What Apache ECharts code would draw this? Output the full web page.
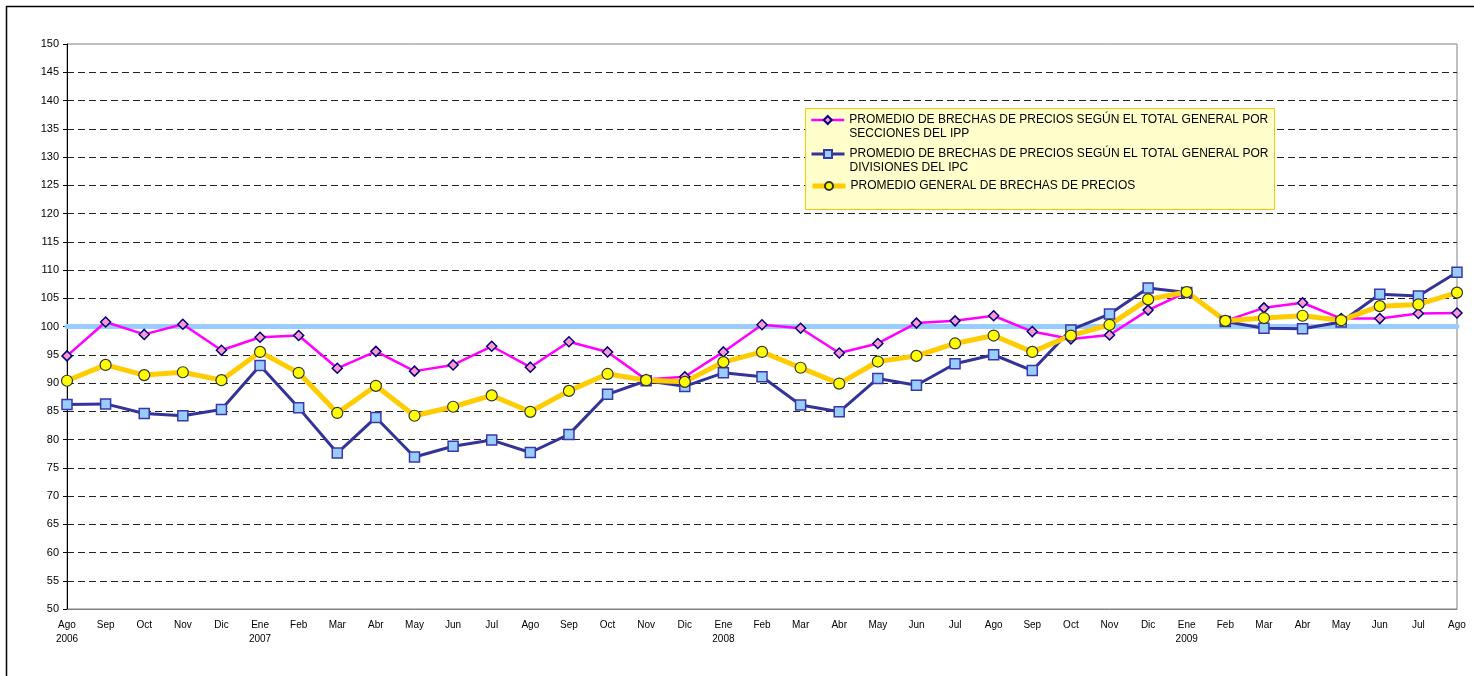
<!DOCTYPE html>
<html>
<head>
<meta charset="utf-8">
<script src="https://cdn.jsdelivr.net/npm/echarts@6/dist/echarts.min.js"></script>
<style>
    html, body { margin: 0; padding: 0; background: #fff; }
    #chart { width: 1474px; height: 676px; }
</style>
</head>
<body>
<div id="chart"></div>
<script>
// meses (Ago 2006 - Ago 2009)
var meses = ['Ago\n2006', 'Sep', 'Oct', 'Nov', 'Dic', 'Ene\n2007', 'Feb', 'Mar', 'Abr', 'May', 'Jun', 'Jul',
    'Ago', 'Sep', 'Oct', 'Nov', 'Dic', 'Ene\n2008', 'Feb', 'Mar', 'Abr', 'May', 'Jun', 'Jul',
    'Ago', 'Sep', 'Oct', 'Nov', 'Dic', 'Ene\n2009', 'Feb', 'Mar', 'Abr', 'May', 'Jun', 'Jul', 'Ago'];

// promedio segun secciones del IPP
var ipp = [94.8, 100.8, 98.6, 100.4, 95.8, 98.1, 98.4, 92.6, 95.6, 92.1, 93.2, 96.5,
    92.8, 97.3, 95.5, 90.6, 91.1, 95.5, 100.3, 99.7, 95.3, 97.0, 100.6, 101.0,
    101.9, 99.1, 97.8, 98.5, 102.9, 106.1, 101.0, 103.3, 104.2, 101.4, 101.4, 102.3, 102.4];

// promedio segun divisiones del IPC
var ipc = [86.2, 86.3, 84.6, 84.2, 85.3, 93.1, 85.6, 77.6, 83.9, 76.9, 78.8, 79.9,
    77.7, 80.9, 88.0, 90.4, 89.4, 91.8, 91.1, 86.1, 84.9, 90.8, 89.6, 93.4,
    95.0, 92.2, 99.4, 102.2, 106.8, 106.0, 100.9, 99.7, 99.6, 100.8, 105.7, 105.4, 109.6];

// promedio general
var general = [90.4, 93.2, 91.4, 91.9, 90.5, 95.5, 91.8, 84.7, 89.5, 84.2, 85.8, 87.8,
    84.9, 88.6, 91.6, 90.5, 90.2, 93.7, 95.5, 92.7, 89.9, 93.8, 94.8, 97.0,
    98.4, 95.5, 98.4, 100.3, 104.8, 106.1, 101.0, 101.5, 101.9, 101.1, 103.6, 103.9, 106.0];

// linea de referencia = 100
var base = meses.map(function () { return 100; });

var nombres = [
    'PROMEDIO DE BRECHAS DE PRECIOS SEGÚN EL TOTAL GENERAL POR\nSECCIONES DEL IPP',
    'PROMEDIO DE BRECHAS DE PRECIOS SEGÚN EL TOTAL GENERAL POR\nDIVISIONES DEL IPC',
    'PROMEDIO GENERAL DE BRECHAS DE PRECIOS'
];

var fuente = '"Liberation Sans", Arial, sans-serif';

function leyenda(nombre, top) {
    return {
        data: [nombre],
        left: 810,
        top: top,
        padding: 0,
        itemWidth: 33,
        itemHeight: 10,
        selectedMode: false,
        lineStyle: { width: 'inherit' },
        // linea vacia delante para que el icono quede en la primera linea
        formatter: function (name) {
            return name.indexOf('\n') >= 0 ? '\n' + name : name;
        },
        textStyle: {
            fontFamily: fuente,
            fontSize: 12,
            color: '#000',
            lineHeight: 14
        }
    };
}

var chart = echarts.init(document.getElementById('chart'));
var option = {
    animation: false,
    backgroundColor: '#fff',
    grid: {
        left: 67,
        right: 17,
        top: 44,
        bottom: 67,
        containLabel: false,
        outerBoundsMode: 'none',
        show: true,
        borderColor: '#808080',
        borderWidth: 1
    },
    graphic: [
        {
            type: 'rect',
            z: 0,
            shape: { x: 6.5, y: 6.5, width: 1480, height: 690 },
            style: { fill: null, stroke: '#000', lineWidth: 1.5 }
        },
        {
            type: 'rect',
            z: 3,
            shape: { x: 805.5, y: 108.5, width: 469, height: 101 },
            style: { fill: '#ffffcc', stroke: '#f5c800', lineWidth: 1 }
        }
    ],
    legend: [
        leyenda(nombres[0], 99),
        leyenda(nombres[1], 133),
        leyenda(nombres[2], 179)
    ],
    xAxis: {
        type: 'category',
        data: meses,
        boundaryGap: false,
        axisLine: { lineStyle: { color: '#808080', width: 1 } },
        axisTick: { show: false },
        axisLabel: {
            interval: 0,
            margin: 9,
            fontFamily: fuente,
            fontSize: 10,
            lineHeight: 14,
            color: '#000'
        },
        splitLine: { show: false }
    },
    yAxis: {
        type: 'value',
        min: 50,
        max: 150,
        interval: 5,
        axisLine: { show: true, lineStyle: { color: '#000', width: 1 } },
        axisTick: { show: true, length: 4, lineStyle: { color: '#000' } },
        axisLabel: {
            margin: 8,
            fontFamily: fuente,
            fontSize: 11,
            color: '#000'
        },
        splitLine: {
            show: true,
            showMinLine: false,
            showMaxLine: false,
            lineStyle: { color: '#222', width: 1, type: [7, 4] }
        }
    },
    series: [
        {
            name: 'Base 100',
            type: 'line',
            data: base,
            z: 1,
            symbol: 'circle',
            symbolSize: 5,
            lineStyle: { color: '#99ccff', width: 5 },
            itemStyle: { color: '#99ccff', borderWidth: 0 }
        },
        {
            name: nombres[0],
            type: 'line',
            data: ipp,
            symbol: 'diamond',
            symbolSize: 10,
            lineStyle: { color: '#ff00ff', width: 2.5 },
            itemStyle: { color: '#ff99cc', borderColor: '#000080', borderWidth: 1.5 }
        },
        {
            name: nombres[1],
            type: 'line',
            data: ipc,
            symbol: 'rect',
            symbolSize: 10,
            lineStyle: { color: '#333399', width: 3 },
            itemStyle: { color: '#99ccff', borderColor: '#3838a8', borderWidth: 1.5 }
        },
        {
            name: nombres[2],
            type: 'line',
            data: general,
            symbol: 'circle',
            symbolSize: 11,
            lineStyle: { color: '#ffcc00', width: 5 },
            itemStyle: { color: '#ffff00', borderColor: '#333333', borderWidth: 1.2 }
        }
    ]
};
chart.setOption(option);
</script>
</body>
</html>
